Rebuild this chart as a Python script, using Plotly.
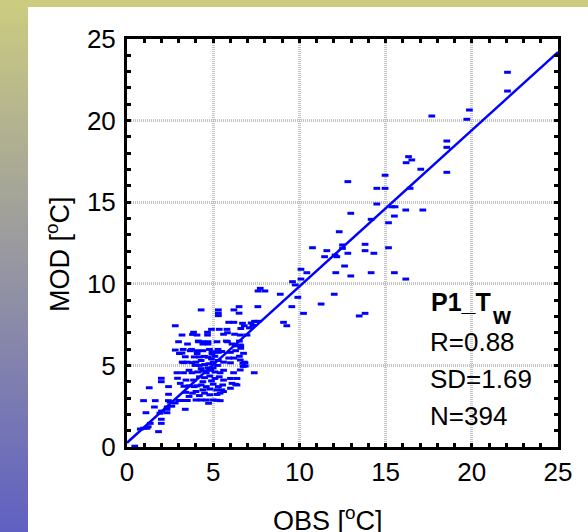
import plotly.graph_objects as go

# ---------------- data ----------------
obs_upper = [22.07, 22.07, 17.68, 19.86, 19.71, 18.55, 18.55, 18.55, 16.33, 16.52, 16.19, 17.04,
             12.81, 14.97, 14.49, 14.97, 16.42, 14.49, 15.36, 15.55, 15.51, 15.17, 16.17, 17.16,
             12.98, 14.16, 12.31, 10.76, 11.59, 12.50, 12.50, 11.46, 12.07, 12.17, 12.81, 13.81,
             13.81, 14.32, 15.17, 12.62, 12.11, 12.98, 14.16, 15.51, 16.17, 10.09, 10.43, 10.09,
             9.60, 9.76, 8.89, 9.91, 12.02, 11.26, 9.56, 10.24, 13.47, 13.81, 9.08, 9.27,
             7.73, 7.60, 8.00, 7.59]
mod_upper = [22.96, 21.81, 20.28, 20.65, 20.08, 18.75, 18.36, 16.83, 17.79, 17.59, 17.42, 17.02,
             16.26, 16.65, 15.85, 15.85, 15.85, 14.89, 14.72, 14.72, 14.15, 13.74, 14.52, 14.52,
             14.32, 13.95, 13.19, 12.21, 12.03, 12.38, 12.17, 11.66, 11.76, 11.66, 11.87, 12.42,
             12.03, 11.87, 12.21, 11.09, 10.68, 10.48, 10.68, 10.68, 10.29, 10.89, 10.68, 10.29,
             10.13, 9.93, 9.36, 9.17, 9.36, 8.76, 8.60, 8.19, 8.03, 8.19, 7.64, 7.43,
             9.72, 9.56, 9.56, 8.60]

obs_cluster = [4.30, 5.30, 5.30, 5.30, 6.50, 6.20, 6.50,
               2.80, 5.90, 6.20, 6.70, 6.80, 7.20, 7.40, 7.60, 7.30, 7.10,
               4.90, 5.35, 5.80, 6.60,
               3.86, 4.67, 5.83, 3.19, 4.06, 4.67, 6.57, 6.96, 5.60, 6.24, 3.80,
               2.99, 3.51, 4.15, 4.40, 4.70, 4.40, 4.70, 5.22, 5.83, 6.09, 6.57, 6.30, 6.60, 4.13, 5.76, 6.52,
               2.80, 3.19, 3.67, 4.06, 4.40, 4.93, 4.93, 5.30, 5.50, 6.00, 6.30, 6.60, 6.76, 3.04, 4.07, 5.28, 3.74, 3.26, 4.78,
               3.38, 3.90, 4.20, 4.70, 4.90, 5.30, 5.60, 5.90, 6.20, 6.57, 6.52, 4.50, 5.10,
               3.20, 3.50, 4.00, 4.30, 5.00, 6.00, 6.80, 3.28, 3.77, 6.85, 6.72, 6.86, 6.74, 4.50, 4.75, 5.25, 4.20, 3.95,
               2.90, 3.28, 3.77, 6.18, 6.57, 7.38, 4.10, 4.40, 4.60, 4.85, 5.10, 5.40, 5.60, 4.30, 4.70, 5.00, 3.60,
               1.99, 1.99, 2.93, 3.42, 3.86, 6.00, 6.38, 4.20, 4.50, 4.80, 5.10, 5.35, 5.60, 4.40, 4.90,
               1.29, 2.41, 3.30, 3.60, 3.90, 4.06, 3.09, 6.38, 6.09, 6.00, 6.30, 4.30, 4.60, 5.00, 5.30, 5.55, 4.80, 5.20, 5.50, 4.40,
               2.41, 3.60, 3.80, 4.00, 4.50, 4.80, 5.22, 5.40, 5.60, 4.20, 3.40,
               0.96, 1.64, 2.40, 2.50, 3.00, 3.25, 3.50, 4.00, 4.30, 4.60, 5.00, 5.22, 5.41, 4.73, 2.80,
               2.32, 2.32, 3.38, 1.10, 1.59, 2.33, 2.60, 2.00, 1.91,
               1.99, 1.99, 1.35, 1.23, 1.83, 0.96, 1.16, 0.77, 0.45]
mod_cluster = [8.40, 8.40, 8.20, 8.05, 8.60, 8.40, 8.20,
               7.43, 7.64, 7.64, 7.58, 7.43, 7.60, 7.70, 7.70, 7.45, 7.30,
               7.21, 7.21, 7.21, 7.26,
               7.03, 7.03, 7.00, 6.86, 6.86, 6.86, 6.86, 6.86, 6.91, 6.91, 6.90,
               6.45, 6.31, 6.45, 6.45, 6.45, 6.31, 6.31, 6.45, 6.45, 6.31, 6.25, 6.20, 6.20, 6.49, 6.49, 6.49,
               5.94, 5.76, 5.90, 5.90, 5.90, 5.84, 5.70, 5.80, 5.85, 5.80, 5.90, 6.05, 5.74, 5.73, 5.73, 5.98, 5.98, 5.98, 5.98,
               5.53, 5.52, 5.52, 5.50, 5.40, 5.30, 5.20, 5.45, 5.45, 5.33, 5.56, 5.55, 5.56,
               5.20, 5.20, 5.20, 5.30, 5.20, 5.16, 5.20, 5.17, 5.17, 5.15, 5.13, 4.96, 4.94, 5.05, 5.10, 5.00, 5.00, 5.00,
               4.55, 4.55, 4.55, 4.55, 4.72, 4.55, 4.60, 4.65, 4.55, 4.70, 4.60, 4.55, 4.70, 4.80, 4.85, 4.85, 4.70,
               4.21, 4.00, 4.21, 4.10, 4.10, 4.20, 4.20, 4.30, 4.25, 4.35, 4.20, 4.30, 4.10, 4.00, 4.05,
               3.63, 3.70, 3.72, 3.75, 3.70, 3.75, 3.90, 3.80, 3.90, 3.60, 3.84, 3.80, 3.70, 3.85, 3.70, 3.80, 3.55, 3.50, 3.50, 3.50,
               3.23, 3.10, 3.30, 3.40, 3.30, 3.20, 3.22, 3.30, 3.40, 3.15, 3.35,
               2.84, 2.84, 2.84, 2.75, 2.85, 2.85, 2.85, 2.88, 2.88, 2.88, 2.88, 2.86, 2.84, 2.68, 2.70,
               2.31, 2.10, 2.31, 2.10, 2.45, 2.45, 2.50, 2.20, 2.07,
               1.70, 1.45, 1.45, 1.24, 0.94, 1.15, 1.15, 1.10, 0.05]

obs_values = obs_upper + obs_cluster
mod_values = mod_upper + mod_cluster

fit_obs = [0, 25]
fit_mod = [0.26, 24.2]

tick_vals = [0, 5, 10, 15, 20, 25]
tick_text = ["0", "5", "10", "15", "20", "25"]

stats_title = "P1_T"
stats_sub = "w"
stats_lines = ["R=0.88", "SD=1.69", "N=394"]

# ---------------- figure ----------------
W, H = 588, 532
ML, MR, MT, MB = 127, 30, 39, 85
PW, PH = W - ML - MR, H - MT - MB


def px(x):
    return (x - ML) / PW


def py(y):
    return (H - MB - y) / PH


fig = go.Figure()
fig.add_trace(go.Scatter(
    x=obs_values, y=mod_values, mode="markers",
    marker=dict(symbol="line-ew", size=4.8, color="#0000FF",
                line=dict(color="#0000FF", width=3)),
    showlegend=False, hoverinfo="x+y"))
fig.add_trace(go.Scatter(
    x=fit_obs, y=fit_mod, mode="lines",
    line=dict(color="#0000FF", width=2.5), showlegend=False))

shapes = []
# left gradient strip
top_c = (204, 204, 128)
bot_c = (96, 96, 194)
nb = 133
for i in range(nb):
    t = i / (nb - 1)
    c = tuple(int(round(top_c[k] + (bot_c[k] - top_c[k]) * t)) for k in range(3))
    y0 = H * i / nb
    y1 = H * (i + 1) / nb + 0.5
    shapes.append(dict(type="rect", xref="paper", yref="paper",
                       x0=px(0), x1=px(28), y0=py(y1), y1=py(y0),
                       fillcolor="rgb(%d,%d,%d)" % c, line=dict(width=0), layer="below"))
# top strip
shapes.append(dict(type="rect", xref="paper", yref="paper",
                   x0=px(0), x1=px(W), y0=py(7), y1=py(0),
                   fillcolor="rgb(204,204,128)", line=dict(width=0), layer="below"))
# white box behind stats text
shapes.append(dict(type="rect", xref="paper", yref="paper",
                   x0=px(424), x1=px(541), y0=py(438), y1=py(282),
                   fillcolor="white", line=dict(width=0), layer="between"))

font_fam = "Liberation Sans, Arial, sans-serif"
annotations = [
    dict(text="OBS [<sup>o</sup>C]", xref="paper", yref="paper", x=px(328), y=py(519),
         showarrow=False, font=dict(family=font_fam, size=27, color="black"),
         xanchor="center", yanchor="middle"),
    dict(text="MOD [<sup>o</sup>C]", xref="paper", yref="paper", x=px(58), y=py(254),
         showarrow=False, textangle=-90, font=dict(family=font_fam, size=27, color="black"),
         xanchor="center", yanchor="middle"),
    dict(text="<b>%s</b>" % stats_title, xref="paper", yref="paper", x=px(429), y=py(302),
         showarrow=False, font=dict(family=font_fam, size=25, color="black"),
         xanchor="left", yanchor="middle"),
    dict(text="<b>%s</b>" % stats_sub, xref="paper", yref="paper", x=px(490), y=py(316),
         showarrow=False, font=dict(family=font_fam, size=23, color="black"),
         xanchor="left", yanchor="middle"),
]
for i, s in enumerate(stats_lines):
    annotations.append(dict(text=s, xref="paper", yref="paper", x=px(428), y=py(342 + 37 * i),
                            showarrow=False, font=dict(family=font_fam, size=26, color="black"),
                            xanchor="left", yanchor="middle"))

axis_common = dict(
    range=[0, 25], tickvals=tick_vals, ticktext=tick_text,
    showline=True, linecolor="black", linewidth=3, mirror="allticks",
    ticks="inside", ticklen=4, tickwidth=2.5, tickcolor="black",
    minor=dict(dtick=1, ticks="inside", ticklen=4, tickwidth=2.5, tickcolor="black", showgrid=False),
    showgrid=True, gridcolor="#C4C4C4", gridwidth=2.5, griddash="1px,1px",
    zeroline=False, tickfont=dict(family=font_fam, size=26, color="black"),
    fixedrange=True,
)

fig.update_layout(
    width=W, height=H,
    margin=dict(l=ML, r=MR, t=MT, b=MB, pad=0),
    paper_bgcolor="white", plot_bgcolor="white",
    xaxis=dict(**axis_common, ticklabelstandoff=0),
    yaxis=dict(**axis_common, ticklabelstandoff=3),
    shapes=shapes, annotations=annotations,
    showlegend=False,
)

fig.write_html("out.html", config={"displayModeBar": False},
               post_script="document.body.style.margin='0';document.body.style.overflow='hidden';")
